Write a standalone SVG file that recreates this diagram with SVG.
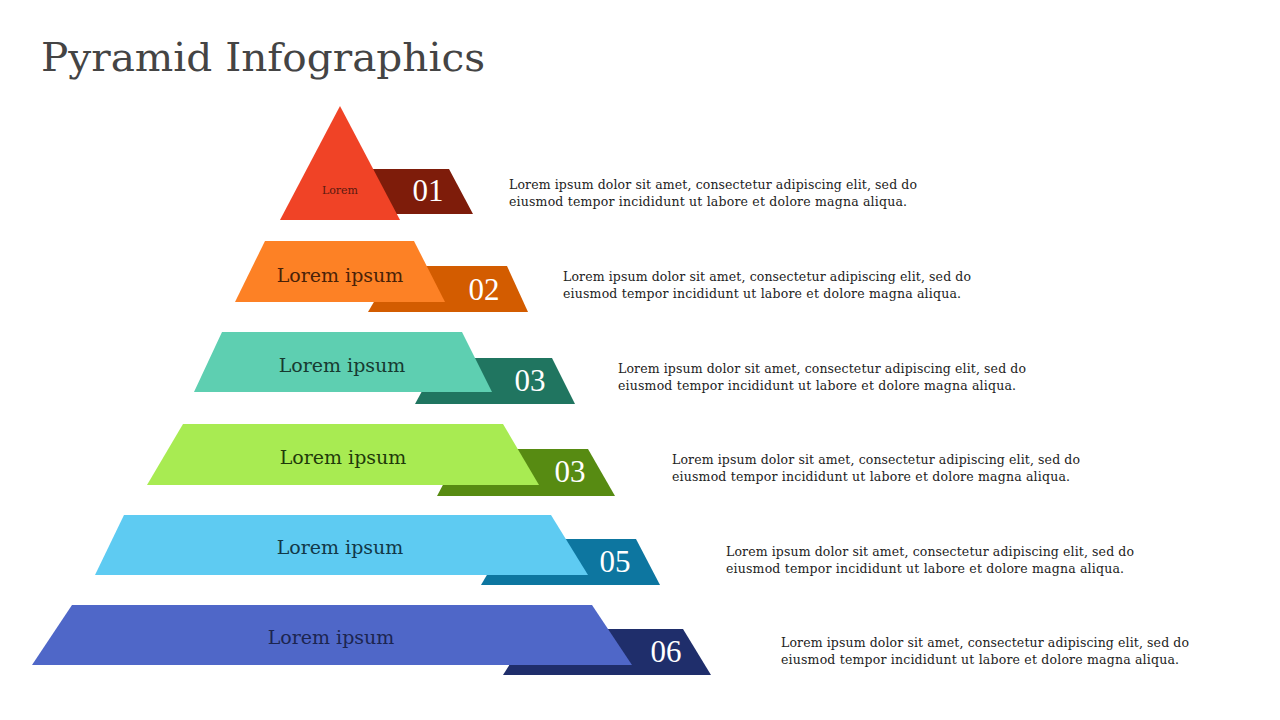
<svg xmlns="http://www.w3.org/2000/svg" width="1280" height="720" viewBox="0 0 1280 720">
<style>
.title{font-family:"DejaVu Serif","Liberation Serif",serif;font-size:40px;fill:#444444}
.lab{font-family:"DejaVu Serif","Liberation Serif",serif;font-size:19px;text-anchor:middle}
.num{font-family:"Liberation Serif",serif;font-size:31px;fill:#ffffff;text-anchor:middle}
.desc{font-family:"DejaVu Serif","Liberation Serif",serif;font-size:12.5px;fill:#222222}
</style>
<rect width="1280" height="720" fill="#ffffff"/>
<text class="title" x="41" y="71" textLength="444" lengthAdjust="spacingAndGlyphs">Pyramid Infographics</text>

<g id="level1">
<polygon points="355,169 449,169 473,214 335,214" fill="#7E1C0A"/>
<polygon points="340,106 400,220 280,220" fill="#F04326"/>
<text class="lab" x="340" y="194" style="font-size:11px" fill="#5a1a10">Lorem</text>
<text class="num" x="428" y="201">01</text>
<text class="desc" x="509" y="189" textLength="408" lengthAdjust="spacing">Lorem ipsum dolor sit amet, consectetur adipiscing elit, sed do</text>
<text class="desc" x="509" y="206" textLength="398" lengthAdjust="spacing">eiusmod tempor incididunt ut labore et dolore magna aliqua.</text>
</g>

<g id="level2">
<polygon points="395,266 507,266 528,312 368,312" fill="#D35C00"/>
<polygon points="265,241 414,241 445,302 235,302" fill="#FD8125"/>
<text class="lab" x="340" y="282" fill="#4a2208">Lorem ipsum</text>
<text class="num" x="484" y="300">02</text>
<text class="desc" x="563" y="281" textLength="408" lengthAdjust="spacing">Lorem ipsum dolor sit amet, consectetur adipiscing elit, sed do</text>
<text class="desc" x="563" y="298" textLength="398" lengthAdjust="spacing">eiusmod tempor incididunt ut labore et dolore magna aliqua.</text>
</g>

<g id="level3">
<polygon points="440,358 552,358 575,404 415,404" fill="#207560"/>
<polygon points="222,332 462,332 492,392 194,392" fill="#5ECFB1"/>
<text class="lab" x="342" y="372" fill="#173a30">Lorem ipsum</text>
<text class="num" x="530" y="391">03</text>
<text class="desc" x="618" y="373" textLength="408" lengthAdjust="spacing">Lorem ipsum dolor sit amet, consectetur adipiscing elit, sed do</text>
<text class="desc" x="618" y="390" textLength="398" lengthAdjust="spacing">eiusmod tempor incididunt ut labore et dolore magna aliqua.</text>
</g>

<g id="level4">
<polygon points="462,449 588,449 615,496 437,496" fill="#578B12"/>
<polygon points="183,424 503,424 539,485 147,485" fill="#A8EB52"/>
<text class="lab" x="343" y="464" fill="#1f3a0a">Lorem ipsum</text>
<text class="num" x="570" y="482">03</text>
<text class="desc" x="672" y="464" textLength="408" lengthAdjust="spacing">Lorem ipsum dolor sit amet, consectetur adipiscing elit, sed do</text>
<text class="desc" x="672" y="481" textLength="398" lengthAdjust="spacing">eiusmod tempor incididunt ut labore et dolore magna aliqua.</text>
</g>

<g id="level5">
<polygon points="508,539 636,539 660,585 481,585" fill="#0D76A0"/>
<polygon points="124,515 551,515 588,575 95,575" fill="#5ECBF2"/>
<text class="lab" x="340" y="554" fill="#123848">Lorem ipsum</text>
<text class="num" x="615" y="572">05</text>
<text class="desc" x="726" y="556" textLength="408" lengthAdjust="spacing">Lorem ipsum dolor sit amet, consectetur adipiscing elit, sed do</text>
<text class="desc" x="726" y="573" textLength="398" lengthAdjust="spacing">eiusmod tempor incididunt ut labore et dolore magna aliqua.</text>
</g>

<g id="level6">
<polygon points="532,629 683,629 711,675 503,675" fill="#1F2E6B"/>
<polygon points="72,605 592,605 632,665 32,665" fill="#4F67C8"/>
<text class="lab" x="331" y="644" fill="#1c2550">Lorem ipsum</text>
<text class="num" x="666" y="662">06</text>
<text class="desc" x="781" y="647" textLength="408" lengthAdjust="spacing">Lorem ipsum dolor sit amet, consectetur adipiscing elit, sed do</text>
<text class="desc" x="781" y="664" textLength="398" lengthAdjust="spacing">eiusmod tempor incididunt ut labore et dolore magna aliqua.</text>
</g>
</svg>
